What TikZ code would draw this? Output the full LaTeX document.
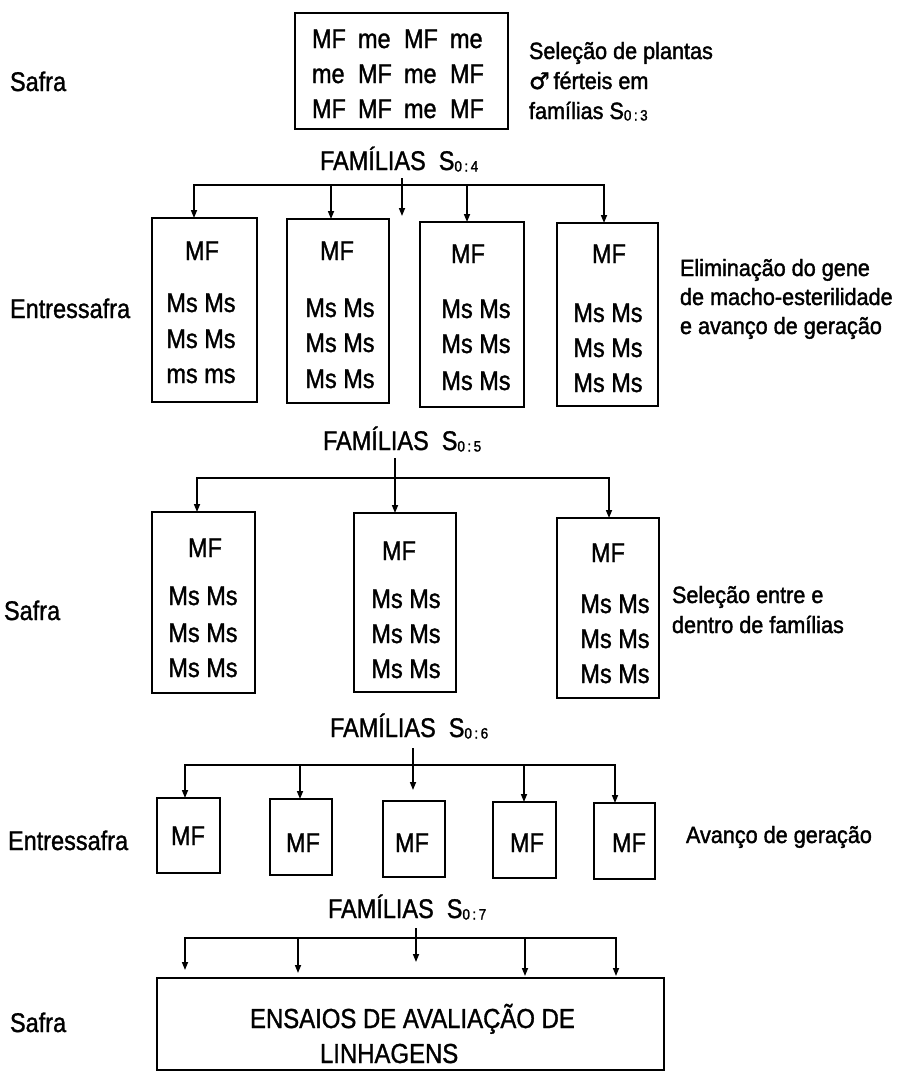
\documentclass[tikz,border=0pt]{standalone}
\usepackage{fontspec}
\setmainfont[FakeStretch=0.87,FakeBold=1.2]{Liberation Sans}
\newfontfamily\notefont[FakeStretch=0.92,FakeBold=1.6]{Liberation Sans}
\newfontfamily\symfont[FakeBold=1.5]{DejaVu Sans}
\newfontfamily\subfont[FakeStretch=0.9,FakeBold=1.5]{Liberation Sans}
\usetikzlibrary{arrows.meta}
\newcommand\sidx[1]{{\subfont\fontsize{15}{15}\selectfont\raisebox{-1.5pt}{#1}}}
\newcommand\cw[1]{\makebox[46pt][l]{#1}}
\begin{document}
\begin{tikzpicture}[x=1pt,y=-1pt,
 box/.style={draw, line width=1.6pt, inner sep=0, outer sep=0},
 txt/.style={inner sep=0, outer sep=0, anchor=base, font=\fontsize{27}{32}\selectfont},
 txtw/.style={txt, anchor=base west},
 note/.style={inner sep=0, outer sep=0, anchor=base west, font=\notefont\fontsize{23.5}{28}\selectfont},
 bus/.style={line width=1.6pt, line cap=rect},
 arr/.style={line width=1.6pt, -{Triangle[length=8pt,width=6pt]}}]

\useasboundingbox (0,0) rectangle (897,1072);

% row labels
\node[txtw] (l1) at (10,91) {Safra};
\node[txtw] (l2) at (10,318) {Entressafra};
\node[txtw] (l3) at (4,620) {Safra};
\node[txtw] (l4) at (8,850) {Entressafra};
\node[txtw] (l5) at (10,1032) {Safra};

% top box
\node[box, minimum width=213pt, minimum height=116pt] (top) at (401.5,71) {};
\node[txtw] (t1) at (312,48) {\cw{MF}\cw{me}\cw{MF}me};
\node[txtw] (t2) at (312,83) {\cw{me}\cw{MF}\cw{me}MF};
\node[txtw] (t3) at (312,118) {\cw{MF}\cw{MF}\cw{me}MF};

\node[note] (n1a) at (529,59) {Seleção de plantas};
\node[note] (n1b) at (529,89) {{\symfont\fontsize{23}{23}\selectfont ♂}\,férteis em};
\node[note] (n1c) at (529,119) {famílias S\sidx{0\,:\,3}};

% FAMILIAS S0:4
\node[txtw] (fam4) at (320,170) {FAMÍLIAS\ \ S\sidx{0\,:\,4}};

% row 2 boxes
\node[box, minimum width=105pt, minimum height=184pt] (r2b1) at (204.5,310) {};
\node[box, minimum width=102pt, minimum height=184pt] (r2b2) at (338,311) {};
\node[box, minimum width=104pt, minimum height=185pt] (r2b3) at (472,314.5) {};
\node[box, minimum width=101pt, minimum height=183pt] (r2b4) at (607.5,314.5) {};

\node[txt] (r2b1m) at (202,260) {MF};
\node[txt] (r2b1a) at (201,312) {Ms Ms};
\node[txt] (r2b1b) at (201,348) {Ms Ms};
\node[txt] (r2b1c) at (201,383) {ms ms};

\node[txt] (r2b2m) at (337,260) {MF};
\node[txt] (r2b2a) at (340,317) {Ms Ms};
\node[txt] (r2b2b) at (340,352) {Ms Ms};
\node[txt] (r2b2c) at (340,388) {Ms Ms};

\node[txt] (r2b3m) at (468,263) {MF};
\node[txt] (r2b3a) at (476,318) {Ms Ms};
\node[txt] (r2b3b) at (476,353) {Ms Ms};
\node[txt] (r2b3c) at (476,390) {Ms Ms};

\node[txt] (r2b4m) at (609,263) {MF};
\node[txt] (r2b4a) at (608,322) {Ms Ms};
\node[txt] (r2b4b) at (608,357) {Ms Ms};
\node[txt] (r2b4c) at (608,392) {Ms Ms};

\node[note] (n2a) at (680,276) {Eliminação do gene};
\node[note] (n2b) at (680,305) {de macho-esterilidade};
\node[note] (n2c) at (680,334) {e avanço de geração};

% connectors row 2
\coordinate (bus2L) at (194,185);
\coordinate (bus2b) at (331,185);
\coordinate (bus2c) at (467,185);
\coordinate (bus2R) at (604,185);
\draw[bus] (bus2L) -- (bus2R);
\draw[arr] (bus2L) -- (bus2L |- r2b1.north);
\draw[arr] (bus2b) -- (bus2b |- r2b2.north);
\draw[arr] (bus2c) -- (bus2c |- r2b3.north);
\draw[arr] (bus2R) -- (bus2R |- r2b4.north);
\coordinate (f4a) at (402,178);
\coordinate (f4b) at (402,216);
\draw[arr] (f4a) -- (f4b);

% FAMILIAS S0:5
\node[txtw] (fam5) at (323,450) {FAMÍLIAS\ \ S\sidx{0\,:\,5}};

% row 3 boxes
\node[box, minimum width=103pt, minimum height=181pt] (r3b1) at (203.5,602.5) {};
\node[box, minimum width=102pt, minimum height=179pt] (r3b2) at (405,602.5) {};
\node[box, minimum width=102pt, minimum height=180pt] (r3b3) at (608,608) {};

\node[txt] (r3b1m) at (205,557) {MF};
\node[txt] (r3b1a) at (203,605) {Ms Ms};
\node[txt] (r3b1b) at (203,642) {Ms Ms};
\node[txt] (r3b1c) at (203,677) {Ms Ms};

\node[txt] (r3b2m) at (399,560) {MF};
\node[txt] (r3b2a) at (406,608) {Ms Ms};
\node[txt] (r3b2b) at (406,643) {Ms Ms};
\node[txt] (r3b2c) at (406,678) {Ms Ms};

\node[txt] (r3b3m) at (608,562) {MF};
\node[txt] (r3b3a) at (615,613) {Ms Ms};
\node[txt] (r3b3b) at (615,648) {Ms Ms};
\node[txt] (r3b3c) at (615,683) {Ms Ms};

\node[note] (n3a) at (672,603) {Seleção entre e};
\node[note] (n3b) at (672,633) {dentro de famílias};

% connectors row 3
\coordinate (bus3L) at (197,478);
\coordinate (bus3R) at (609,478);
\draw[bus] (bus3L) -- (bus3R);
\draw[arr] (bus3L) -- (bus3L |- r3b1.north);
\draw[arr] (bus3R) -- (bus3R |- r3b3.north);
\coordinate (f5a) at (395,458);
\draw[arr] (f5a) -- (f5a |- r3b2.north);

% FAMILIAS S0:6
\node[txtw] (fam6) at (330,737) {FAMÍLIAS\ \ S\sidx{0\,:\,6}};

% row 4 boxes
\node[box, minimum width=63pt, minimum height=75pt] (r4b1) at (188.5,835.5) {};
\node[box, minimum width=62pt, minimum height=76pt] (r4b2) at (301,837) {};
\node[box, minimum width=62pt, minimum height=76pt] (r4b3) at (414,839) {};
\node[box, minimum width=63pt, minimum height=76pt] (r4b4) at (524.5,840) {};
\node[box, minimum width=61pt, minimum height=76pt] (r4b5) at (624.5,841) {};

\node[txt] (r4b1m) at (188,845) {MF};
\node[txt] (r4b2m) at (303,852) {MF};
\node[txt] (r4b3m) at (412,852) {MF};
\node[txt] (r4b4m) at (527,852) {MF};
\node[txt] (r4b5m) at (629,852) {MF};

\node[note] (n4) at (686,843) {Avanço de geração};

% connectors row 4
\coordinate (bus4L) at (185,765);
\coordinate (bus4b) at (300,765);
\coordinate (bus4d) at (524,765);
\coordinate (bus4R) at (615,765);
\draw[bus] (bus4L) -- (bus4R);
\draw[arr] (bus4L) -- (bus4L |- r4b1.north);
\draw[arr] (bus4b) -- (bus4b |- r4b2.north);
\draw[arr] (bus4d) -- (bus4d |- r4b4.north);
\draw[arr] (bus4R) -- (bus4R |- r4b5.north);
\coordinate (f6a) at (413,748);
\coordinate (f6b) at (413,790);
\draw[arr] (f6a) -- (f6b);

% FAMILIAS S0:7
\node[txtw] (fam7) at (328,918) {FAMÍLIAS\ \ S\sidx{0\,:\,7}};

% final box
\node[box, minimum width=507pt, minimum height=92pt] (big) at (410.5,1024) {};
\node[txtw, font=\fontsize{27.5}{32}\selectfont] (bt1) at (250,1028) {ENSAIOS DE AVALIAÇÃO DE};
\node[txtw, font=\fontsize{27.5}{32}\selectfont] (bt2) at (320,1063) {LINHAGENS};

% connectors row 5
\coordinate (bus5L) at (185,938);
\coordinate (bus5b) at (298,938);
\coordinate (bus5d) at (525,938);
\coordinate (bus5R) at (616,938);
\draw[bus] (bus5L) -- (bus5R);
\draw[arr, shorten >=8pt] (bus5L) -- (bus5L |- big.north);
\draw[arr, shorten >=5pt] (bus5b) -- (bus5b |- big.north);
\draw[arr, shorten >=2pt] (bus5d) -- (bus5d |- big.north);
\draw[arr, shorten >=2pt] (bus5R) -- (bus5R |- big.north);
\coordinate (f7a) at (416,928);
\coordinate (f7b) at (416,962);
\draw[arr] (f7a) -- (f7b);

\end{tikzpicture}
\end{document}
